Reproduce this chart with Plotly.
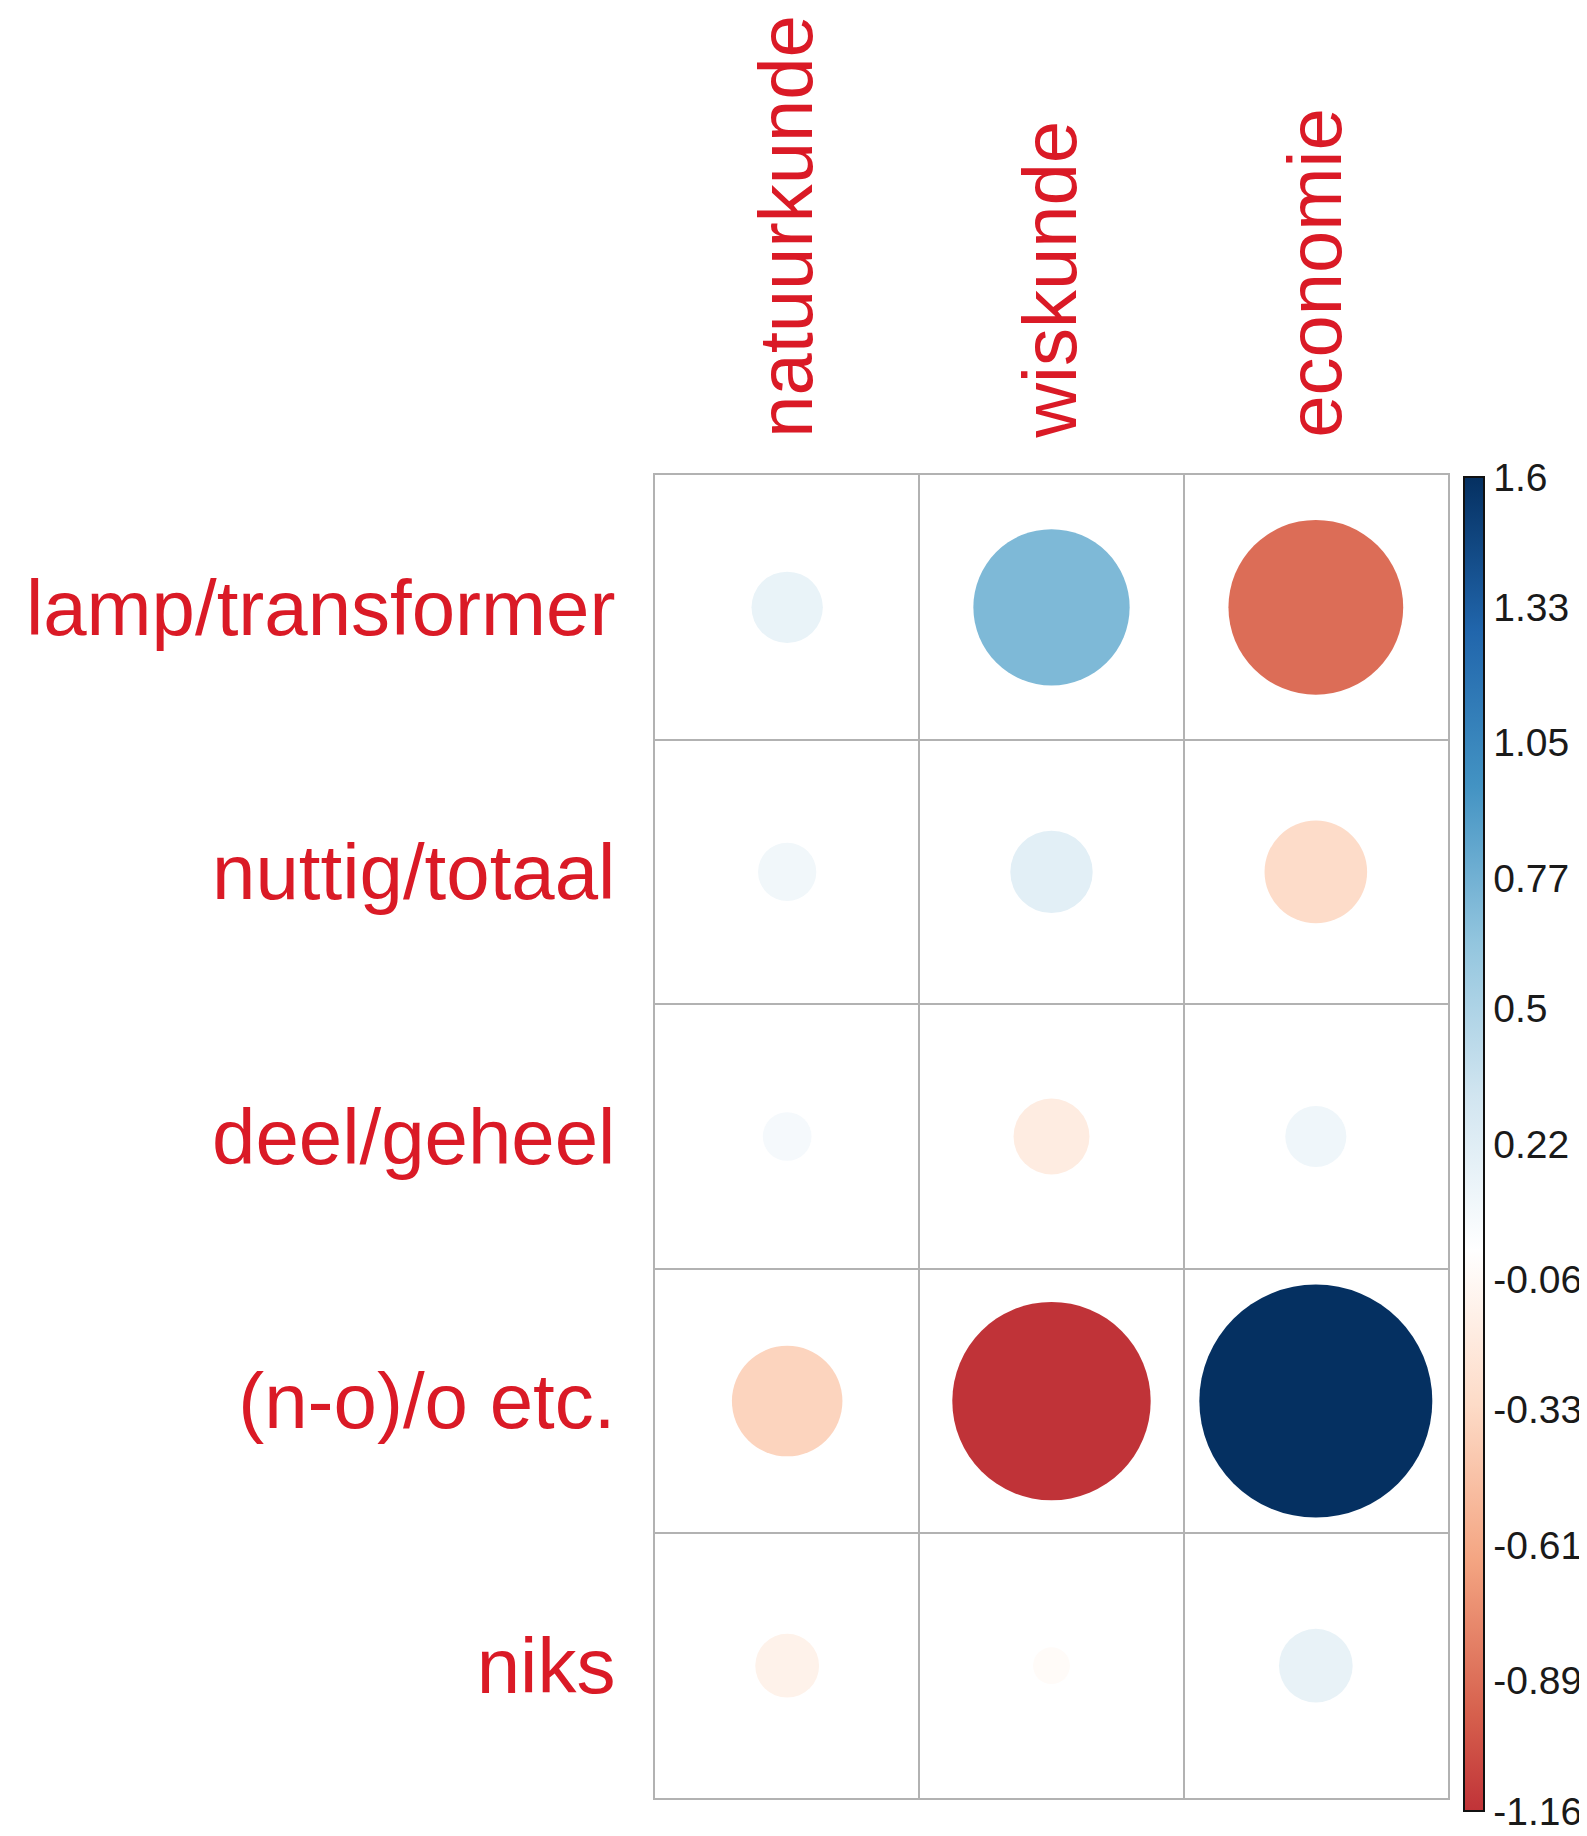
import numpy as np
import plotly.graph_objects as go

# rows / columns of the matrix
rows = ["lamp/transformer", "nuttig/totaal", "deel/geheel", "(n-o)/o etc.", "niks"]
cols = ["natuurkunde", "wiskunde", "economie"]

natuurkunde = [0.15, 0.10, 0.07, -0.36, -0.12]
wiskunde = [0.72, 0.20, -0.17, -1.16, -0.04]
economie = [-0.90, -0.31, 0.11, 1.60, 0.16]

cb_tickvals = [1.6, 1.33, 1.05, 0.77, 0.5, 0.22, -0.06, -0.33, -0.61, -0.89, -1.16]
cb_ticktext = ["1.6", "1.33", "1.05", "0.77", "0.5", "0.22", "-0.06", "-0.33", "-0.61", "-0.89", "-1.16"]

# corrplot RdBu palette, spread over [-1, 1]
palette = ["#67001F", "#B2182B", "#D6604D", "#F4A582", "#FDDBC7", "#FFFFFF",
           "#D1E5F0", "#92C5DE", "#4393C3", "#2166AC", "#053061"]

FONT = "Liberation Sans, Arial, sans-serif"
RED = "#DA1A26"
GRID = "#B2B2B2"


def hex2rgb(h):
    h = h.lstrip("#")
    return np.array([int(h[i:i + 2], 16) for i in (0, 2, 4)], dtype=float)


def pal_color(t):
    # colour of the palette at t in [-1, 1]
    pos = np.linspace(-1, 1, len(palette))
    rgb = [np.interp(t, pos, [hex2rgb(p)[k] for p in palette]) for k in range(3)]
    return "rgb(%d,%d,%d)" % tuple(round(c) for c in rgb)


data = {"natuurkunde": natuurkunde, "wiskunde": wiskunde, "economie": economie}
xs, ys, vals = [], [], []
for c in cols:
    for r, v in zip(rows, data[c]):
        xs.append(c)
        ys.append(r)
        vals.append(v)
vals = np.array(vals)

vmax = np.abs(vals).max()
lo, hi = vals.min(), vals.max()

# colours are symmetric around 0 (-vmax..vmax); the bar only shows lo..hi
cs = []
pos = np.linspace(-1, 1, len(palette))
stops = [lo / vmax] + [p for p in pos if lo / vmax < p < hi / vmax] + [hi / vmax]
for s in stops:
    cs.append([(s * vmax - lo) / (hi - lo), pal_color(s)])

dmax = 233  # px diameter of the biggest circle

# page body has an 8px margin, so the figure is 8px smaller
W, H = 1579, 1828
L, T, PW, PH = 647, 467, 793, 1323

fig = go.Figure(go.Scatter(
    x=xs, y=ys, mode="markers", hoverinfo="skip",
    marker=dict(
        size=np.abs(vals), sizemode="area", sizeref=2 * vmax / dmax ** 2,
        color=vals, cmin=lo - 1e-9, cmax=hi + 1e-9, colorscale=cs, line=dict(width=0),
        opacity=1,
        colorbar=dict(
            tickvals=cb_tickvals, ticktext=cb_ticktext, ticks="", ticklen=0,
            tickfont=dict(family=FONT, size=39, color="#1a1a1a"),
            thickness=20, thicknessmode="pixels",
            len=1334, lenmode="pixels",
            x=(1456 - L) / PW, xanchor="left", xpad=0,
            y=(T + PH - 1136) / PH, yanchor="middle", ypad=0,
            outlinewidth=2, outlinecolor="#111111",
        ),
    ),
))

axis_common = dict(
    type="category", tickson="boundaries", showgrid=True, gridcolor=GRID, gridwidth=2,
    showline=True, mirror=True, linecolor=GRID, linewidth=2, zeroline=False,
    ticks="", automargin=False, fixedrange=True,
    tickfont=dict(family=FONT, size=78, color=RED),
)

fig.update_xaxes(axis_common, categoryorder="array", categoryarray=cols,
                 range=[-0.5, len(cols) - 0.5], side="top", tickangle=-90,
                 ticklabelstandoff=20, tickfont_size=76)
fig.update_yaxes(axis_common, categoryorder="array", categoryarray=rows,
                 range=[len(rows) - 0.5, -0.5], ticklabelstandoff=22)

fig.update_layout(
    width=W, height=H,
    margin=dict(l=L, r=W - L - PW, t=T, b=H - T - PH, autoexpand=False),
    paper_bgcolor="white", plot_bgcolor="white",
    showlegend=False,
)

fig.write_html("out.html")
